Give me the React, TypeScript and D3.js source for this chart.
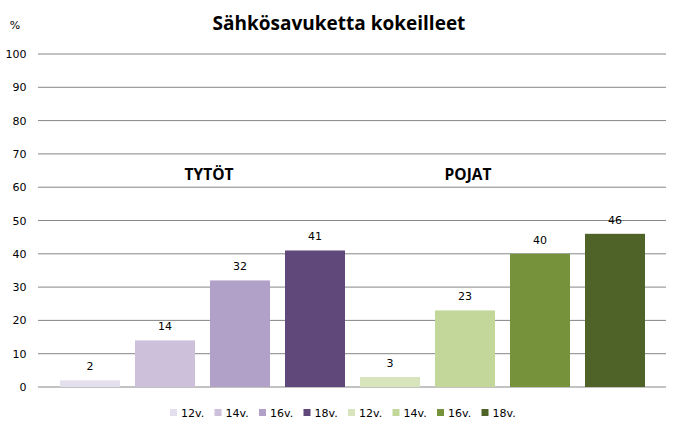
import React from "react";
import * as d3 from "d3";

const categories = ["T12", "T14", "T16", "T18", "P12", "P14", "P16", "P18"];
const legendLabels = ["12v.", "14v.", "16v.", "18v.", "12v.", "14v.", "16v.", "18v."];
const values = [2, 14, 32, 41, 3, 23, 40, 46];
const colors = ["#E4DFEC", "#CCC0DA", "#B1A0C7", "#60497A", "#D8E4BC", "#C4D79B", "#76933C", "#4F6228"];
const yTicks = [0, 10, 20, 30, 40, 50, 60, 70, 80, 90, 100];
const groupLabels = ["TYTÖT", "POJAT"];

const W = 679, H = 431;

export default function App() {
  const x = d3.scaleBand<string>().domain(categories).range([52.5, 652.5]).paddingInner(0.2).paddingOuter(0.1);
  const y = d3.scaleLinear().domain([0, 100]).range([387, 54]);
  const bw = x.bandwidth();
  return (
    <svg width={W} height={H} style={{ position: "absolute", left: 0, top: 0 }}>
      <rect width={W} height={H} fill="#fff" />
      <text x={339} y={30} textAnchor="middle" fontFamily="Open Sans, sans-serif" fontWeight="bold" fontSize={19}>Sähkösavuketta kokeilleet</text>
      <text x={15} y={29} textAnchor="middle" fontFamily="DejaVu Sans" fontSize={11}>%</text>
      {yTicks.map(t => (
        <g key={t}>
          <line x1={38} x2={666} y1={y(t)} y2={y(t)} stroke="#868686" strokeWidth={1} />
          <text x={26.5} y={y(t) + 4} textAnchor="end" fontFamily="DejaVu Sans" fontSize={11}>{t}</text>
        </g>
      ))}
      {categories.map((c, i) => (
        <g key={c}>
          <rect x={x(c)} y={y(values[i])} width={bw} height={y(0) - y(values[i])} fill={colors[i]} />
          <text x={(x(c) as number) + bw / 2} y={y(values[i]) - 10} textAnchor="middle" fontFamily="DejaVu Sans" fontSize={11}>{values[i]}</text>
        </g>
      ))}
      <text x={209} y={180} textAnchor="middle" fontFamily="Open Sans, sans-serif" fontWeight="bold" fontSize={15.5}>{groupLabels[0]}</text>
      <text x={468} y={180} textAnchor="middle" fontFamily="Open Sans, sans-serif" fontWeight="bold" fontSize={15.5}>{groupLabels[1]}</text>
      {legendLabels.map((l, i) => {
        const lx = 170 + i * 44.5;
        return (
          <g key={i}>
            <rect x={lx} y={409} width={7} height={7} fill={colors[i]} />
            <text x={lx + 11} y={417} fontFamily="DejaVu Sans" fontSize={11}>{l}</text>
          </g>
        );
      })}
    </svg>
  );
}
